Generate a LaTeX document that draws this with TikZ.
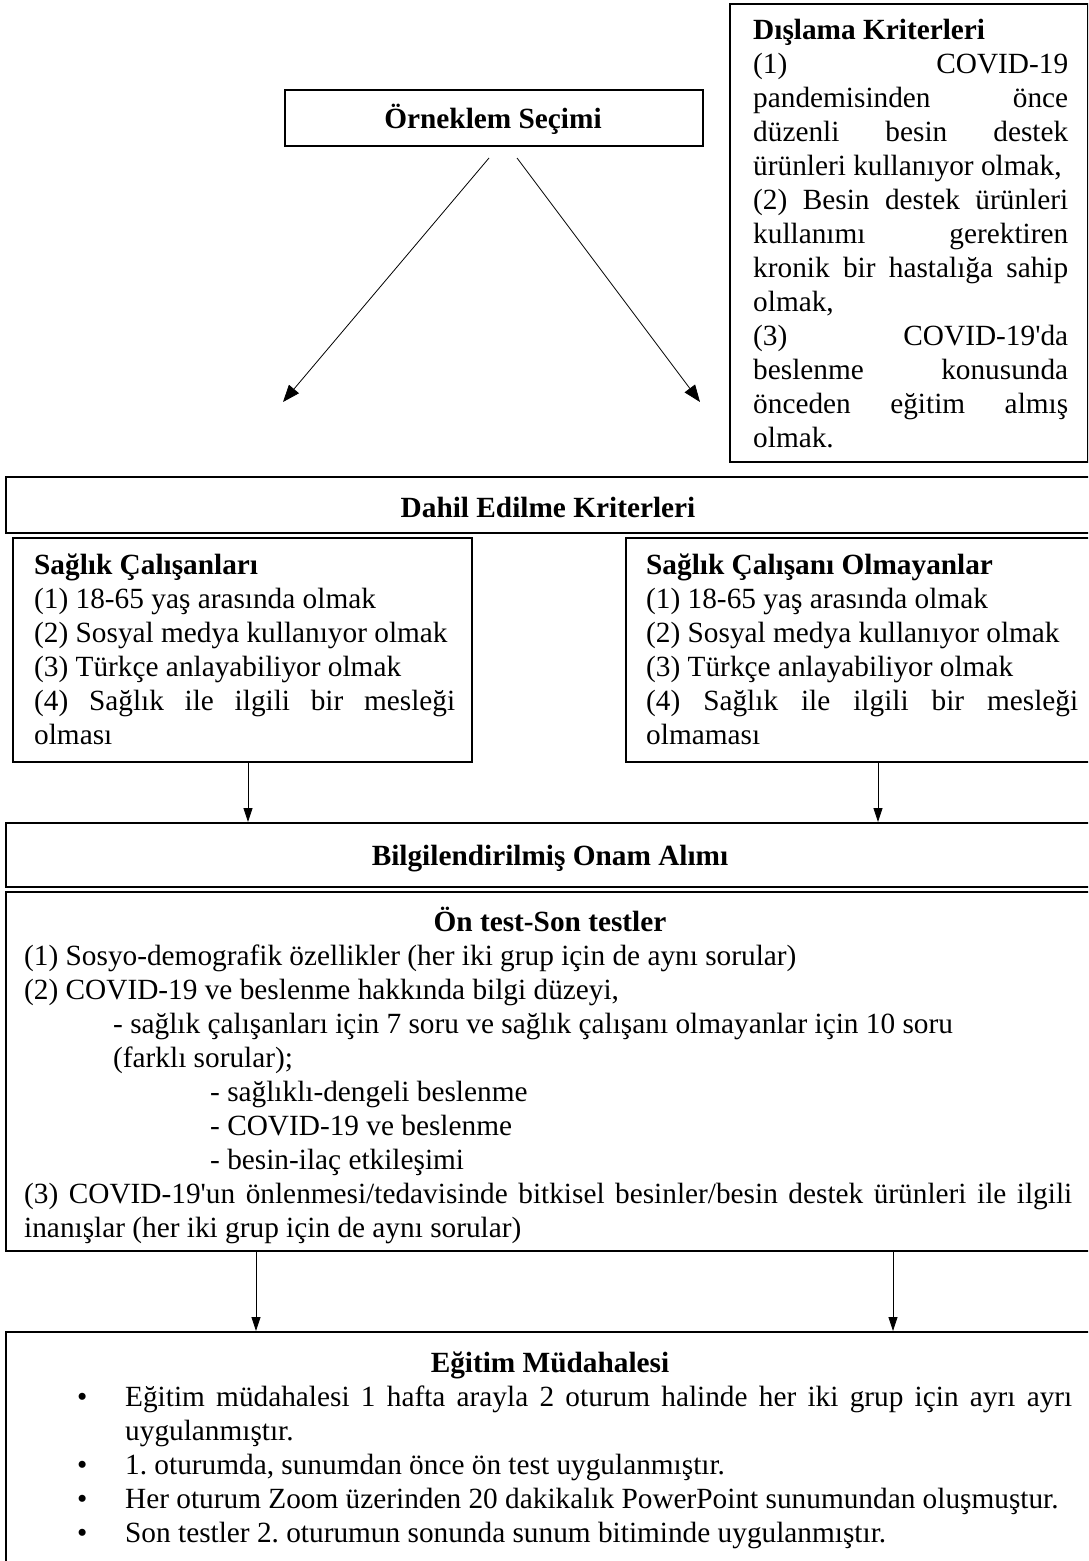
\documentclass[tikz,border=0pt]{standalone}
\usepackage{fontspec}
\setmainfont{Liberation Serif}[Ligatures=TeXOff]
\usetikzlibrary{arrows.meta}
\newcommand\bodyfont{\fontsize{29.3}{34}\selectfont\frenchspacing}
\newcommand\J[1]{\hbox to\hsize{\strut #1}}
\newcommand\Lf[1]{\hbox to\hsize{\strut #1\hfil}}
\hbadness=10000
\hfuzz=40pt
\frenchspacing
\tikzset{
  box/.style={draw, line width=1.5pt, inner sep=0pt, anchor=north west},
  blk/.style={inner sep=0pt, anchor=north west, font=\bodyfont},
  ttl/.style={inner sep=0pt, anchor=base, font=\bodyfont\bfseries},
  arr/.style={-{Triangle[length=14pt,width=9pt]}, line width=0.8pt},
  darr/.style={-{Triangle[length=17pt,width=13pt]}, line width=0.8pt}
}
\begin{document}
\begin{tikzpicture}[x=1pt,y=-1pt]
\useasboundingbox (0,0) rectangle (1088,1561);
\clip (0,0) rectangle (1088,1561);

% boxes
\node[box, minimum width=418pt, minimum height=56pt] (samp) at (284,89) {};
\node[box, minimum width=358pt, minimum height=458pt] (excl) at (729,3) {};
\node[box, minimum width=1091pt, minimum height=56pt] (dahil) at (5,476) {};
\node[box, minimum width=459pt, minimum height=224pt] (hcL) at (12,537) {};
\node[box, minimum width=475pt, minimum height=224pt] (hcR) at (625,537) {};
\node[box, minimum width=1091pt, minimum height=64pt] (onam) at (5,822) {};
\node[box, minimum width=1091pt, minimum height=359pt] (test) at (5,891) {};
\node[box, minimum width=1091pt, minimum height=260pt] (egit) at (5,1331) {};

% titles
\node[ttl] (sampT) at (493,128) {Örneklem Seçimi};
\node[ttl] (dahilT) at (548,517) {Dahil Edilme Kriterleri};
\node[ttl] (onamT) at (550,865) {Bilgilendirilmiş Onam Alımı};
\node[ttl] (testTT) at (550,931) {Ön test-Son testler};
\node[ttl] (egitTT) at (550,1372) {Eğitim Müdahalesi};

% exclusion text
\node[blk] (exT) at (753,15.2) {\vbox{\hsize=315pt
\Lf{\bfseries Dışlama Kriterleri}
\J{(1) COVID-19}
\J{pandemisinden önce}
\J{düzenli besin destek}
\Lf{ürünleri kullanıyor olmak,}
\J{(2) Besin destek ürünleri}
\J{kullanımı gerektiren}
\J{kronik bir hastalığa sahip}
\Lf{olmak,}
\J{(3) COVID-19'da}
\J{beslenme konusunda}
\J{önceden eğitim almış}
\Lf{olmak.}
}};

% inclusion criteria
\node[blk] (hcLT) at (34,550.2) {\vbox{\hsize=421pt
\Lf{\bfseries Sağlık Çalışanları}
\Lf{(1) 18-65 yaş arasında olmak}
\Lf{(2) Sosyal medya kullanıyor olmak}
\Lf{(3) Türkçe anlayabiliyor olmak}
\J{(4) Sağlık ile ilgili bir mesleği}
\Lf{olması}
}};
\node[blk] (hcRT) at (646,550.2) {\vbox{\hsize=432pt
\Lf{\bfseries Sağlık Çalışanı Olmayanlar}
\Lf{(1) 18-65 yaş arasında olmak}
\Lf{(2) Sosyal medya kullanıyor olmak}
\Lf{(3) Türkçe anlayabiliyor olmak}
\J{(4) Sağlık ile ilgili bir mesleği}
\Lf{olmaması}
}};

% pre/post tests
\node[blk] (testT) at (24,941.2) {\vbox{\hsize=1048pt
\Lf{(1) Sosyo-demografik özellikler (her iki grup için de aynı sorular)}
\Lf{(2) COVID-19 ve beslenme hakkında bilgi düzeyi,}
\Lf{\hskip89pt - sağlık çalışanları için 7 soru ve sağlık çalışanı olmayanlar için 10 soru}
\Lf{\hskip89pt (farklı sorular);}
\Lf{\hskip186pt - sağlıklı-dengeli beslenme}
\Lf{\hskip186pt - COVID-19 ve beslenme}
\Lf{\hskip186pt - besin-ilaç etkileşimi}
\J{(3) COVID-19'un önlenmesi/tedavisinde bitkisel besinler/besin destek ürünleri ile ilgili}
\Lf{inanışlar (her iki grup için de aynı sorular)}
}};

% intervention
\node[blk] (egitT) at (77,1382.2) {\vbox{\hsize=995pt
\J{\hbox to48pt{•\hfil}Eğitim müdahalesi 1 hafta arayla 2 oturum halinde her iki grup için ayrı ayrı}
\Lf{\hskip48pt uygulanmıştır.}
\Lf{\hbox to48pt{•\hfil}1. oturumda, sunumdan önce ön test uygulanmıştır.}
\Lf{\hbox to48pt{•\hfil}Her oturum Zoom üzerinden 20 dakikalık PowerPoint sunumundan oluşmuştur.}
\Lf{\hbox to48pt{•\hfil}Son testler 2. oturumun sonunda sunum bitiminde uygulanmıştır.}
}};

% connectors
\coordinate (dL0) at (489,158);
\coordinate (dL1) at (283,402);
\coordinate (dR0) at (517,158);
\coordinate (dR1) at (700,402);
\draw[darr] (dL0) -- (dL1);
\draw[darr] (dR0) -- (dR1);

\coordinate (xA) at (248,0);
\coordinate (xB) at (878,0);
\coordinate (xC) at (256,0);
\coordinate (xD) at (893,0);
\draw[arr] (hcL.south -| xA) -- (onam.north -| xA);
\draw[arr] (hcR.south -| xB) -- (onam.north -| xB);
\draw[arr] (test.south -| xC) -- (egit.north -| xC);
\draw[arr] (test.south -| xD) -- (egit.north -| xD);
\end{tikzpicture}
\end{document}
